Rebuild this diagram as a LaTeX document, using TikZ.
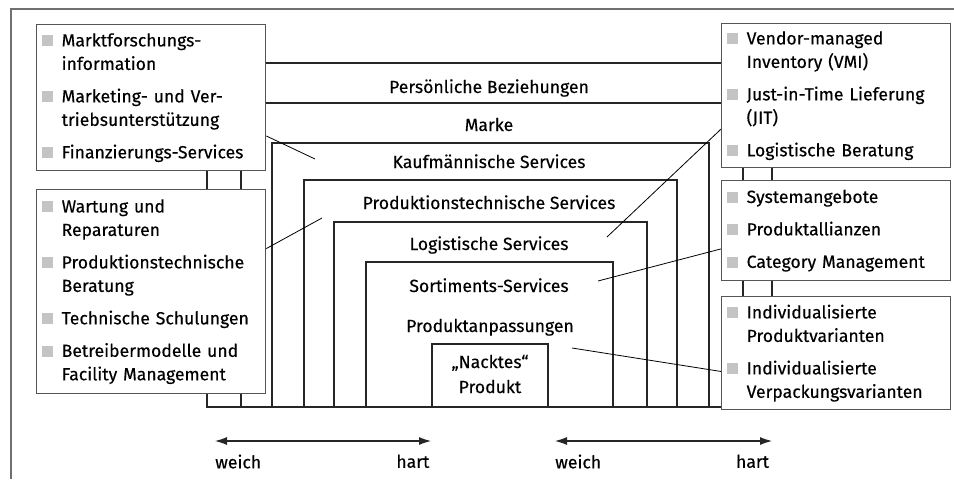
\documentclass[tikz,border=0pt]{standalone}
\usepackage{fontspec}
\setmainfont{Fira Sans}[FakeBold=0.3]
\usetikzlibrary{arrows.meta,calc,positioning}
\pgfdeclarelayer{bg}
\pgfsetlayers{bg,main}
\definecolor{boxline}{HTML}{555555}
\definecolor{frameline}{HTML}{707070}
\definecolor{bulletgray}{HTML}{C4C4C4}
\newcommand{\bitem}[1]{\setlength{\parskip}{6.75pt}\hangindent=15pt\hangafter=1\noindent\makebox[15pt][l]{\color{bulletgray}\rule{8.25pt}{8.25pt}}#1\par}
\tikzset{
  itembox/.style={draw=boxline, line width=1pt, fill=white, anchor=north west,
    inner xsep=3.75pt, inner ysep=0pt, text width=164.25pt, minimum width=171.75pt, align=left},
  ringlabel/.style={anchor=base, inner sep=0pt},
  ring/.style={draw=black!85, line width=0.8pt},
  link/.style={draw=black, line width=0.6pt},
  scalearrow/.style={draw=black!85, line width=0.8pt, {Latex[length=9pt,width=6pt]}-{Latex[length=9pt,width=6pt]}}
}

\begin{document}
\begin{tikzpicture}[x=0.75pt, y=-0.75pt, font=\fontsize{13.2}{17.6}\selectfont]
        \useasboundingbox (0,0) rectangle (954,479);
        \draw[frameline, line width=0.8pt] (11,479) -- (11,9) -- (954,9);
        % service boxes
        \node (b0) [itembox, minimum height=109.5pt] at (36,24) {\bitem{Marktforschungs-\newline information}\bitem{Marketing- und Ver-\newline triebsunterstützung}\bitem{Finanzierungs-Services}};
        \node (b1) [itembox, minimum height=153pt] at (36,189) {\bitem{Wartung und\newline Reparaturen}\bitem{Produktionstechnische\newline Beratung}\bitem{Technische Schulungen}\bitem{Betreibermodelle und\newline Facility Management}};
        \node (b2) [itembox, minimum height=108pt] at (721,23) {\bitem{Vendor-managed\newline Inventory (VMI)}\bitem{Just-in-Time Lieferung\newline (JIT)}\bitem{Logistische Beratung}};
        \node (b3) [itembox, minimum height=75pt] at (721,180) {\bitem{Systemangebote}\bitem{Produktallianzen}\bitem{Category Management}};
        \node (b4) [itembox, minimum height=84.75pt] at (721,296) {\bitem{Individualisierte\newline Produktvarianten}\bitem{Individualisierte\newline Verpackungsvarianten}};
        % layer labels
        \node (l0) [ringlabel] at (489,93) {Persönliche Beziehungen};
        \node (l1) [ringlabel] at (489,131) {Marke};
        \node (l2) [ringlabel] at (489,168) {Kaufmännische Services};
        \node (l3) [ringlabel] at (489,209) {Produktionstechnische Services};
        \node (l4) [ringlabel] at (489,250) {Logistische Services};
        \node (l5) [ringlabel] at (489,292) {Sortiments-Services};
        \node (l6) [ringlabel] at (490,332) {Produktanpassungen};
        \node (l7) [align=center, inner sep=0pt, font=\fontsize{13.2}{18.75}\selectfont] at (490,374) {„Nacktes“\\Produkt};
        % inner ends of the links
        \coordinate (c0) at (315,159);
        \coordinate (c1) at (322,218);
        \coordinate (c2) at (607,237);
        \coordinate (c3) at (598,281);
        \coordinate (c4) at (572,348);
        \begin{pgfonlayer}{bg}
                \draw[ring] (207,407) rectangle (743,63);
                \draw[ring] (241,407) rectangle (772,103);
                \draw[ring] (272,407) rectangle (709,143);
                \draw[ring] (304,407) rectangle (677,180);
                \draw[ring] (334,407) rectangle (647,222);
                \draw[ring] (366,407) rectangle (613,262);
                \draw[ring] (432,407) rectangle (548,344);
                \draw ($(b0.north east)!0.76!(b0.south east)$) edge [link] (c0);
                \draw ($(b1.north east)!0.29!(b1.south east)$) edge [link] (c1);
                \draw ($(b2.north west)!0.73!(b2.south west)$) edge [link] (c2);
                \draw ($(b3.north west)!0.68!(b3.south west)$) edge [link] (c3);
                \draw ($(b4.north west)!0.66!(b4.south west)$) edge [link] (c4);
        \end{pgfonlayer}
        % weich / hart scales
        \coordinate (s0) at (215,441);
        \coordinate (h0) at (431,441);
        \coordinate (s1) at (555,441);
        \coordinate (h1) at (772,441);
        \draw[scalearrow] (s0) -- (h0);
        \draw[scalearrow] (s1) -- (h1);
        \node (w0) [below right=10pt and 0pt of s0, inner sep=0pt] {weich};
        \node (t0) [below left=10pt and 1pt of h0, inner sep=0pt] {hart};
        \node (w1) [below right=10pt and 0pt of s1, inner sep=0pt] {weich};
        \node (t1) [below left=10pt and 2pt of h1, inner sep=0pt] {hart};
\end{tikzpicture}
\end{document}
